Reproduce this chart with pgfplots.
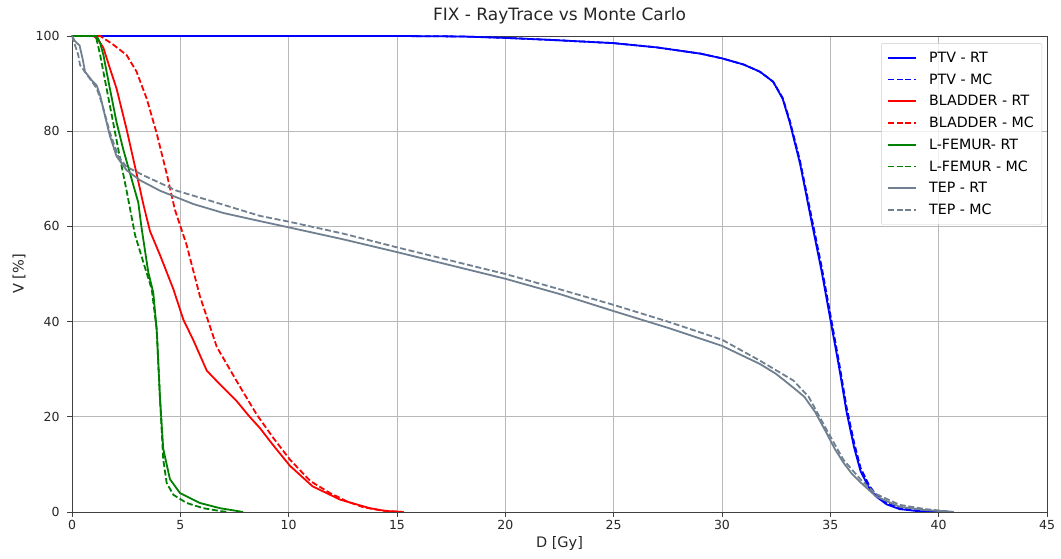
\documentclass[border=0pt]{standalone}
\usepackage{pgfplots}
\pgfplotsset{compat=1.18}
\usepackage{fontspec}
\setmainfont{DejaVu Sans}
\definecolor{tepgray}{HTML}{708090}
\definecolor{mplgreen}{HTML}{008000}
\definecolor{txt}{HTML}{262626}

\pgfplotstableread{
x y
0 100
15 100
18 99.9
20 99.6
22 99.2
25 98.5
27 97.6
29 96.3
30 95.3
31 94.0
31.75 92.5
32.36 90.4
32.8 86.8
33.13 81.8
33.6 73.2
34.13 61.1
34.6 50.5
35 40.5
35.4 30.5
35.75 21
36.1 13.5
36.4 8.5
36.8 5
37.1 3.3
37.6 1.6
38.2 0.6
39 0.2
40 0.05
40.7 0
}\ptvrt

\pgfplotstableread{
x y
0 100
15 100
18 99.9
20 99.6
22 99.2
25 98.5
27 97.6
29 96.3
30 95.3
31 94.0
31.75 92.5
32.36 90.4
32.8 87.0
33.13 82.2
33.6 73.8
34.13 62.0
34.6 51.5
35 41.5
35.4 31.5
35.75 22
36.1 14.5
36.4 9.2
36.8 5.5
37.1 3.7
37.6 1.9
38.2 0.8
39 0.3
40 0.1
40.7 0
}\ptvmc

\pgfplotstableread{
x y
0 100
1.0 100
1.2 99.3
1.45 97.5
1.75 93.2
2.06 88.9
2.52 80.4
2.98 71.1
3.3 64.5
3.6 59
4.06 54
4.68 46.8
5.14 40.4
5.6 36.1
6.22 29.7
6.83 26.8
7.6 23.3
8.2 20
8.68 17.6
9.29 14
10.06 9.7
11.1 5.4
12.37 2.6
13.75 0.8
14.5 0.2
15.3 0
}\bladrt

\pgfplotstableread{
x y
0 100
1.3 100
1.9 98.2
2.52 96
2.98 92.5
3.45 86.8
3.9 79.7
4.37 71.1
4.75 63.5
5.29 56.1
5.9 45.4
6.68 34.7
7.6 27.5
8.52 20.5
9.3 15.5
10.06 11
11 6.5
11.9 4
12.7 2.2
13.44 1.0
14.3 0.3
15.3 0
}\bladmc

\pgfplotstableread{
x y
0 100
1.14 100
1.3 98.5
1.45 96
1.75 88.9
2.06 81.8
2.37 76.1
2.68 71.1
3.06 65
3.21 59.7
3.52 50.4
3.75 46.1
3.91 38.3
4.06 24
4.21 13.3
4.52 6.9
4.98 4
5.9 1.9
6.83 0.8
7.9 0
}\femrt

\pgfplotstableread{
x y
0 100
1.1 100
1.3 96
1.6 88.9
1.9 81.8
2.2 74.7
2.52 67.5
2.91 58.2
3.29 52.5
3.68 46.8
3.91 38.3
4.06 24
4.21 11.1
4.37 6.1
4.68 3.6
5.29 1.9
6.06 0.8
6.83 0.2
7.2 0
}\femmc

\pgfplotstableread{
x y
0 100
0.14 98.9
0.35 98
0.5 95
0.6 92.5
0.91 90.7
1.14 89.6
1.3 87.5
1.45 84.6
1.75 79
2.06 74.7
2.52 71.8
3.14 69.7
4.06 67.5
5.6 64.7
7 62.8
8.68 61.1
10 59.8
12.5 57.3
15 54.6
17.5 51.8
20 49
22.5 45.8
25 42.2
27.5 38.7
30 34.9
31.75 31.1
32.5 29
33.3 26.1
33.8 24.2
34.3 21
34.8 16.8
35.2 13.3
35.6 10.4
36 8
36.4 6.2
37.1 3.3
38.2 1.1
39.4 0.4
40.7 0
}\teprt

\pgfplotstableread{
x y
0 100
0.29 96
0.37 93.9
0.83 91
1.14 89
1.37 86
1.75 79.7
2.14 74.7
2.52 72.5
3.45 70.4
4.83 67.5
6.37 65.4
8.68 62.2
10 61
12.5 58.5
15 55.6
17.5 52.8
20 50
22.5 46.8
25 43.5
27.5 40
30 36.2
31.75 31.8
33.3 27.6
34 24.2
34.8 17.5
35.6 11
36.4 6.8
37.1 3.8
38.2 1.5
39.4 0.6
40.7 0
}\tepmc

\begin{document}
\begin{tikzpicture}
\begin{axis}[
  width=975pt, height=476pt, scale only axis,
  xmin=0, xmax=45, ymin=0, ymax=100,
  xtick={0,5,...,45}, ytick={0,20,...,100},
  tick align=outside, major tick length=5pt,
  xtick pos=bottom, ytick pos=left,
  axis line style={black!75, line width=0.8pt},
  tick style={black!75, line width=0.8pt},
  grid=major, grid style={color=black!28, line width=0.7pt},
  /pgf/number format/assume math mode=true,
  ticklabel style={font=\fontsize{12.5}{14}\selectfont, text=txt},
  yticklabel style={xshift=-4pt},
  title={FIX - RayTrace vs Monte Carlo},
  title style={at={(0.5,1)}, anchor=base, yshift=9pt, font=\fontsize{17}{20}\selectfont, text=txt},
  xlabel={D [Gy]},
  xlabel style={at={(0.5,0)}, anchor=base, yshift=-36pt, font=\fontsize{14.5}{17}\selectfont, text=txt},
  ylabel={V [\%]},
  ylabel style={at={(0,0.5)}, anchor=center, yshift=53pt, font=\fontsize{14.5}{17}\selectfont, text=txt},
  legend style={at={(0.9949,0.985)}, anchor=north east, draw=black!20, rounded corners=2pt,
     fill=white, fill opacity=0.8, text opacity=1, font=\fontsize{14.2}{16}\selectfont,
     row sep=5.8pt, column sep=10pt, inner xsep=6pt, inner ysep=6.5pt},
  legend cell align=left,
  legend image code/.code={\draw[#1, line width=1.8pt] (0pt,0pt) -- (28pt,0pt);},
]
\addplot[blue, line width=1.8pt, line join=round] table {\ptvrt};
\addlegendentry{PTV - RT}
\addplot[blue, line width=1.8pt, line join=round, dash pattern=on 6pt off 2.6pt] table {\ptvmc};
\addlegendentry{PTV - MC}
\addplot[red, line width=1.8pt, line join=round] table {\bladrt};
\addlegendentry{BLADDER - RT}
\addplot[red, line width=1.8pt, line join=round, dash pattern=on 6pt off 2.6pt] table {\bladmc};
\addlegendentry{BLADDER - MC}
\addplot[mplgreen, line width=1.8pt, line join=round] table {\femrt};
\addlegendentry{L-FEMUR- RT}
\addplot[mplgreen, line width=1.8pt, line join=round, dash pattern=on 6pt off 2.6pt] table {\femmc};
\addlegendentry{L-FEMUR - MC}
\addplot[tepgray, line width=1.8pt, line join=round] table {\teprt};
\addlegendentry{TEP - RT}
\addplot[tepgray, line width=1.8pt, line join=round, dash pattern=on 6pt off 2.6pt] table {\tepmc};
\addlegendentry{TEP - MC}
\end{axis}
\pgfresetboundingbox
\path[use as bounding box] (-72pt,-47pt) rectangle (989pt,512pt);
\end{tikzpicture}
\end{document}
